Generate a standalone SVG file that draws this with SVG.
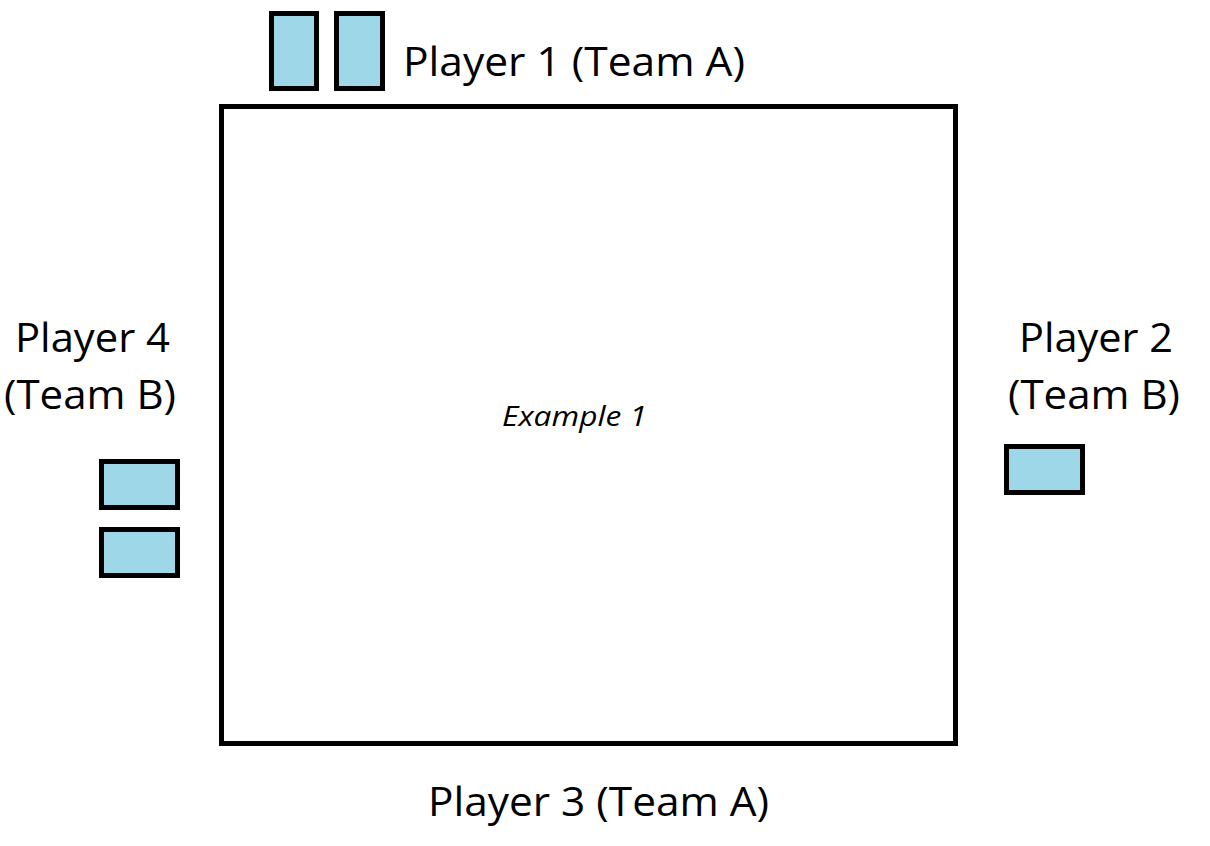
<svg xmlns="http://www.w3.org/2000/svg" width="1210" height="846" viewBox="0 0 1210 846">
<style>
.card{fill:#9dd7e8;stroke:#000;stroke-width:5}
.lbl{font-family:"Open Sans","Liberation Sans",sans-serif;font-size:40px;fill:#000}
.ex{font-family:"Open Sans","Liberation Sans",sans-serif;font-size:28px;font-style:italic;fill:#000}
</style>
<rect width="1210" height="846" fill="#fff"/>
<g id="table">
<rect x="221.5" y="106.5" width="734" height="637" fill="#fff" stroke="#000" stroke-width="5"/>
<text class="ex" x="502" y="426" textLength="145" lengthAdjust="spacingAndGlyphs">Example 1</text>
</g>
<g id="player1">
<rect class="card" x="271.5" y="13.5" width="45" height="75"/>
<rect class="card" x="336.5" y="13.5" width="46" height="75"/>
<text class="lbl" x="403" y="76" textLength="342" lengthAdjust="spacingAndGlyphs">Player 1 (Team A)</text>
</g>
<g id="player2">
<text class="lbl" x="1019" y="352" textLength="154" lengthAdjust="spacingAndGlyphs">Player 2</text>
<text class="lbl" x="1008" y="409" textLength="172" lengthAdjust="spacingAndGlyphs">(Team B)</text>
<rect class="card" x="1006.5" y="446.5" width="76" height="46"/>
</g>
<g id="player3">
<text class="lbl" x="428" y="816" textLength="341" lengthAdjust="spacingAndGlyphs">Player 3 (Team A)</text>
</g>
<g id="player4">
<text class="lbl" x="15" y="352" textLength="155" lengthAdjust="spacingAndGlyphs">Player 4</text>
<text class="lbl" x="4" y="409" textLength="172" lengthAdjust="spacingAndGlyphs">(Team B)</text>
<rect class="card" x="101.5" y="461.5" width="76" height="46"/>
<rect class="card" x="101.5" y="529.5" width="76" height="46"/>
</g>
<g id="connectors"/>
</svg>
